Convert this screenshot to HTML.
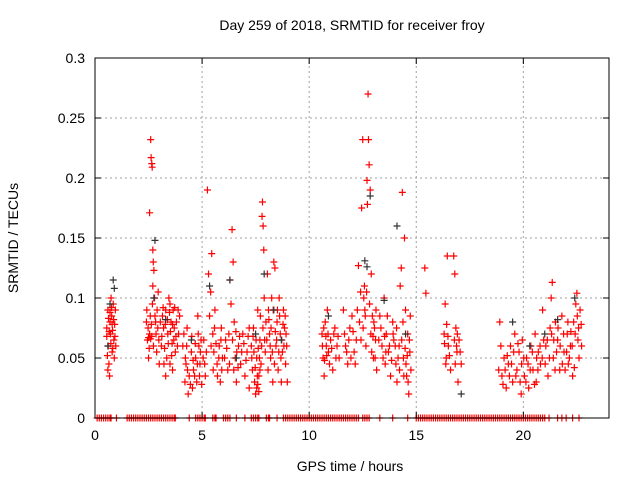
<!DOCTYPE html>
<html><head><meta charset="utf-8"><style>
body{margin:0;background:#fff;font-family:"Liberation Sans",sans-serif}
svg text{font-family:"Liberation Sans",sans-serif;font-size:14px;fill:#000}
</style></head><body>
<svg id="c" width="640" height="480" xmlns="http://www.w3.org/2000/svg">
<rect width="640" height="480" fill="#fff"/>
<text x="352" y="30" text-anchor="middle">Day 259 of 2018, SRMTID for receiver froy</text>
<text x="350" y="471" text-anchor="middle">GPS time / hours</text>
<text transform="translate(18,238) rotate(-90)" text-anchor="middle">SRMTID / TECUs</text>
<g id="grid"></g>
<g id="marks"></g>
<g id="axes"></g>
</svg>
<script>
const xTicks=[0,5,10,15,20];
const yTicks=[0,0.05,0.1,0.15,0.2,0.25,0.3];
const yTickLabels=["0","0.05","0.1","0.15","0.2","0.25","0.3"];
const redPoints=[[0.55,0.075],[0.6,0.09],[0.62,0.06],[0.65,0.045],[0.68,0.035],[0.7,0.08],[0.72,0.07],[0.75,0.1],[0.78,0.085],[0.8,0.055],[0.82,0.073],[0.85,0.095],[0.88,0.065],[0.9,0.05],[0.92,0.078],[0.95,0.09],[0.6,0.04],[0.7,0.088],
[2.4,0.08],[2.45,0.065],[2.5,0.05],[2.55,0.171],[2.6,0.232],[2.62,0.217],[2.65,0.212],[2.67,0.209],[2.7,0.14],[2.72,0.13],[2.75,0.123],[2.78,0.1],[2.8,0.085],[2.85,0.07],[2.9,0.09],[2.95,0.105],[3.0,0.045],[2.5,0.067],[2.6,0.066],[2.7,0.11],
[3.1,0.06],[3.15,0.085],[3.2,0.075],[3.3,0.09],[3.35,0.05],[3.4,0.07],[3.45,0.1],[3.5,0.095],[3.55,0.08],[3.6,0.062],[3.65,0.09],[3.7,0.075],[3.75,0.055],[3.8,0.08],[3.9,0.07],[3.95,0.085],[3.3,0.035],[3.5,0.045],
[4.1,0.06],[4.2,0.03],[4.25,0.045],[4.3,0.075],[4.35,0.02],[4.4,0.035],[4.5,0.055],[4.55,0.025],[4.6,0.04],[4.7,0.05],[4.75,0.03],[4.8,0.085],[4.85,0.06],[4.9,0.045],[4.95,0.065],
[5.05,0.05],[5.15,0.035],[5.25,0.19],[5.3,0.12],[5.4,0.105],[5.45,0.137],[5.5,0.07],[5.55,0.055],[5.6,0.09],[5.7,0.045],[5.8,0.06],[5.85,0.03],[5.9,0.075],[5.95,0.05],
[6.1,0.065],[6.2,0.04],[6.3,0.115],[6.35,0.095],[6.4,0.157],[6.45,0.13],[6.5,0.08],[6.55,0.05],[6.6,0.03],[6.7,0.06],[6.8,0.045],[6.9,0.07],[7.0,0.035],[7.1,0.055],[7.2,0.025],[7.2,0.075],
[7.3,0.06],[7.35,0.04],[7.4,0.075],[7.45,0.03],[7.5,0.02],[7.55,0.05],[7.6,0.09],[7.65,0.035],[7.7,0.065],[7.75,0.045],[7.8,0.168],[7.82,0.18],[7.85,0.16],[7.88,0.14],[7.9,0.1],[7.95,0.055],[7.6,0.028],[7.7,0.04],
[8.05,0.12],[8.1,0.09],[8.15,0.07],[8.2,0.05],[8.25,0.1],[8.3,0.03],[8.35,0.13],[8.4,0.125],[8.45,0.06],[8.5,0.08],[8.55,0.04],[8.6,0.1],[8.65,0.07],[8.7,0.03],[8.75,0.055],[8.8,0.09],[8.85,0.075],[8.9,0.045],[8.95,0.06],
[10.6,0.07],[10.65,0.05],[10.7,0.035],[10.75,0.08],[10.8,0.06],[10.85,0.09],[10.9,0.055],[11.0,0.065],[11.1,0.04],[11.2,0.075],[11.3,0.06],[11.4,0.05],
[11.6,0.09],[11.7,0.06],[11.8,0.045],[11.9,0.075],[12.0,0.085],[12.1,0.055],[12.2,0.065],[12.3,0.127],[12.35,0.08],
[12.45,0.175],[12.5,0.232],[12.55,0.1],[12.6,0.09],[12.65,0.06],[12.7,0.198],[12.72,0.178],[12.75,0.27],[12.77,0.232],[12.8,0.211],[12.85,0.19],[12.9,0.12],[12.95,0.085],[13.0,0.05],[13.05,0.075],[13.1,0.065],[13.15,0.04],
[13.3,0.085],[13.4,0.06],[13.5,0.1],[13.55,0.045],[13.6,0.07],[13.7,0.055],[13.8,0.035],[13.9,0.08],[13.95,0.065],
[14.05,0.045],[14.1,0.03],[14.2,0.06],[14.25,0.11],[14.3,0.125],[14.35,0.188],[14.4,0.05],[14.45,0.15],[14.5,0.09],[14.55,0.035],[14.6,0.07],[14.65,0.02],[14.7,0.055],[14.75,0.04],
[15.4,0.125],[15.45,0.104],
[16.3,0.07],[16.35,0.095],[16.4,0.05],[16.45,0.135],[16.5,0.06],[16.6,0.04],[16.75,0.135],[16.8,0.12],[16.85,0.075],[16.9,0.055],[16.95,0.03],[17.0,0.065],[17.1,0.045],
[18.9,0.08],[19.0,0.035],[19.1,0.05],[19.2,0.025],[19.3,0.045],[19.4,0.06],[19.5,0.03],[19.6,0.07],[19.7,0.04],[19.8,0.055],[19.9,0.02],[19.95,0.065],
[20.05,0.035],[20.15,0.05],[20.25,0.025],[20.35,0.06],[20.45,0.04],[20.55,0.07],[20.6,0.03],[20.7,0.055],[20.8,0.045],[20.9,0.09],
[21.05,0.06],[21.15,0.035],[21.25,0.075],[21.3,0.1],[21.35,0.113],[21.4,0.05],[21.5,0.08],[21.6,0.065],[21.7,0.04],[21.8,0.085],[21.9,0.055],
[22.05,0.07],[22.1,0.045],[22.2,0.06],[22.3,0.035],[22.35,0.08],[22.45,0.095],[22.5,0.104],[22.55,0.065],[22.6,0.05],[22.7,0.078]];
const extraRedPoints=[[0.55,0.068],[0.58,0.052],[0.63,0.083],[0.66,0.072],[0.74,0.062],[0.77,0.092],[0.8,0.078],[0.83,0.058],[0.87,0.082],[0.93,0.068],[0.97,0.06],
[2.42,0.09],[2.48,0.075],[2.53,0.058],[2.58,0.085],[2.63,0.078],[2.68,0.095],[2.73,0.06],[2.83,0.08],[2.88,0.055],[2.93,0.075],[2.98,0.065],[2.55,0.07],[2.65,0.068],
[3.05,0.08],[3.12,0.068],[3.18,0.092],[3.25,0.058],[3.28,0.078],[3.38,0.082],[3.42,0.062],[3.48,0.088],[3.52,0.072],[3.58,0.052],[3.62,0.078],[3.68,0.065],[3.72,0.092],[3.78,0.068],[3.85,0.06],[3.88,0.09],[3.22,0.045],[3.62,0.04],
[4.15,0.07],[4.22,0.05],[4.28,0.06],[4.32,0.04],[4.45,0.028],[4.52,0.068],[4.58,0.048],[4.65,0.035],[4.68,0.062],[4.78,0.045],[4.82,0.07],[4.88,0.035],[4.92,0.055],[4.98,0.028],
[5.08,0.065],[5.12,0.045],[5.2,0.055],[5.35,0.085],[5.42,0.06],[5.52,0.04],[5.58,0.075],[5.65,0.062],[5.72,0.035],[5.78,0.05],[5.88,0.065],[5.92,0.04],
[6.05,0.05],[6.15,0.058],[6.25,0.07],[6.28,0.045],[6.42,0.065],[6.48,0.04],[6.58,0.072],[6.62,0.055],[6.68,0.042],[6.75,0.068],[6.85,0.055],[6.95,0.062],[7.05,0.048],[7.15,0.068],
[7.32,0.05],[7.38,0.068],[7.42,0.055],[7.48,0.042],[7.52,0.065],[7.58,0.035],[7.62,0.058],[7.68,0.05],[7.72,0.085],[7.78,0.06],[7.84,0.075],[7.92,0.065],[7.98,0.08],[7.55,0.025],[7.65,0.022],
[8.02,0.065],[8.08,0.04],[8.12,0.082],[8.18,0.06],[8.22,0.075],[8.28,0.055],[8.32,0.09],[8.38,0.045],[8.42,0.072],[8.48,0.065],[8.52,0.09],[8.58,0.055],[8.62,0.085],[8.68,0.05],[8.72,0.065],[8.78,0.078],[8.82,0.06],[8.88,0.085],[8.92,0.07],[8.98,0.03],
[10.62,0.06],[10.68,0.075],[10.72,0.048],[10.78,0.068],[10.82,0.052],[10.88,0.07],[10.95,0.045],[11.05,0.058],[11.15,0.07],[11.25,0.05],[11.35,0.068],
[11.65,0.07],[11.75,0.055],[11.85,0.065],[11.95,0.05],[12.05,0.072],[12.15,0.045],[12.25,0.09],[12.4,0.105],[12.42,0.065],
[12.52,0.075],[12.58,0.11],[12.62,0.085],[12.68,0.105],[12.82,0.095],[12.88,0.07],[12.92,0.055],[12.98,0.068],[13.02,0.08],[13.08,0.05],[13.12,0.09],
[13.25,0.065],[13.35,0.075],[13.45,0.05],[13.52,0.068],[13.58,0.055],[13.65,0.085],[13.75,0.06],[13.85,0.048],[13.92,0.07],
[14.02,0.06],[14.08,0.075],[14.15,0.05],[14.22,0.04],[14.32,0.065],[14.38,0.08],[14.42,0.035],[14.48,0.058],[14.52,0.045],[14.58,0.052],[14.62,0.03],[14.68,0.065],[14.72,0.085],
[16.32,0.062],[16.38,0.045],[16.42,0.078],[16.48,0.068],[16.55,0.052],[16.78,0.065],[16.82,0.045],[16.88,0.06],[16.92,0.07],[17.05,0.055],
[18.85,0.04],[18.95,0.06],[19.05,0.028],[19.15,0.04],[19.25,0.052],[19.35,0.035],[19.45,0.045],[19.55,0.055],[19.65,0.035],[19.75,0.062],[19.85,0.03],[19.92,0.045],
[20.02,0.05],[20.12,0.03],[20.22,0.045],[20.32,0.04],[20.42,0.055],[20.52,0.028],[20.62,0.05],[20.68,0.04],[20.78,0.06],[20.88,0.05],[20.95,0.065],
[21.02,0.045],[21.12,0.065],[21.22,0.05],[21.32,0.07],[21.42,0.065],[21.48,0.04],[21.55,0.055],[21.62,0.075],[21.72,0.06],[21.82,0.045],[21.88,0.07],[21.95,0.04],
[22.02,0.055],[22.08,0.08],[22.15,0.05],[22.22,0.072],[22.28,0.06],[22.38,0.042],[22.42,0.07],[22.52,0.085],[22.58,0.075],[22.65,0.09],[22.72,0.06]];
const blackPoints=[[0.7,0.095],[0.85,0.115],[0.9,0.108],[0.6,0.06],[2.8,0.148],[2.75,0.1],[3.3,0.082],[5.35,0.11],[6.3,0.115],[6.6,0.05],[7.9,0.12],[8.35,0.09],[8.7,0.065],[12.6,0.131],[12.7,0.126],[12.85,0.185],[13.5,0.098],[14.1,0.16],[14.5,0.07],[17.1,0.02],[19.5,0.08],[20.3,0.06],[21.0,0.07],[21.6,0.082],[22.4,0.1],[10.9,0.085],[4.5,0.065],[7.5,0.07]];
const zeroHours=[0.1,0.2,0.3,0.4,0.5,0.6,0.7,0.75,1.0,1.5,1.6,1.7,1.8,1.9,2.0,2.1,2.2,2.3,2.4,2.5,2.6,2.7,2.8,2.9,3.0,3.1,3.2,3.3,3.4,3.5,3.6,3.7,3.75,4.4,4.7,4.8,4.9,5.0,5.1,5.15,5.5,5.6,5.65,6.0,6.1,6.2,6.3,6.6,7.0,7.3,7.4,7.5,7.6,7.65,8.0,8.1,8.15,8.5,8.8,8.9,9.0,9.1,9.2,9.3,9.4,9.5,9.6,9.7,9.8,9.9,10.0,10.1,10.2,10.3,10.4,10.5,10.6,10.7,10.8,10.9,11.0,11.1,11.2,11.3,11.4,11.5,11.6,11.7,11.8,11.9,12.0,12.1,12.2,12.3,12.5,12.6,12.7,12.8,13.3,13.9,14.6,15.0,15.1,15.2,15.3,15.4,15.5,15.6,15.7,15.8,15.9,16.0,16.1,16.2,16.3,16.4,16.5,16.6,16.7,16.8,16.9,17.0,17.1,17.2,17.3,17.4,17.5,17.6,17.7,17.8,17.9,18.0,18.1,18.2,18.3,18.4,18.5,18.6,18.7,18.8,18.9,19.0,19.1,19.2,19.3,19.4,19.5,19.6,19.7,19.8,19.9,20.0,20.1,20.2,20.3,20.4,20.5,20.6,20.7,20.8,20.9,21.0,21.2,21.6,21.8,22.0,22.3,22.6];

const X0=95,X1=609,Y0=418,Y1=58,XMAX=24,YMAX=0.3;
const xs=v=>X0+(X1-X0)*v/XMAX, ys=v=>Y0-(Y0-Y1)*v/YMAX;
const NS="http://www.w3.org/2000/svg";
function mk(t,a,p){const e=document.createElementNS(NS,t);for(const k in a)e.setAttribute(k,a[k]);p.appendChild(e);return e;}
const grid=document.getElementById('grid'),axes=document.getElementById('axes'),marks=document.getElementById('marks');
xTicks.forEach(t=>{const x=xs(t);
 if(t>0){const g=mk('line',{x1:x,x2:x,y1:Y0,y2:Y1,stroke:'#a0a0a0','stroke-dasharray':'2,3'},grid);
 }
 const tk=mk('path',{d:`M${x},${Y0}v-6M${x},${Y1}v6`,stroke:'#000'},axes);
 
 const l=mk('text',{x:x,y:Y0+22,'text-anchor':'middle'},axes);l.textContent=t;
 });
yTicks.forEach((t,i)=>{const y=ys(t);
 if(t>0&&t<YMAX){const g=mk('line',{x1:X0,x2:X1,y1:y,y2:y,stroke:'#a0a0a0','stroke-dasharray':'2,3'},grid);
 }
 const tk=mk('path',{d:`M${X0},${y}h6M${X1},${y}h-6`,stroke:'#000'},axes);
 
 const l=mk('text',{x:X0-10,y:y+5,'text-anchor':'end'},axes);l.textContent=yTickLabels[i];
 });
const fr=mk('rect',{x:X0,y:Y1,width:X1-X0,height:Y0-Y1,fill:'none',stroke:'#000'},axes);

function plus(h,v,c,name){const x=xs(h),y=ys(v);
 const p=mk('path',{d:`M${x-3.5},${y}h7M${x},${y-3.5}v7`,stroke:c,'stroke-width':1.2},marks);
 }
redPoints.forEach(d=>plus(d[0],d[1],'#f00','red-point'));
extraRedPoints.forEach(d=>plus(d[0],d[1],'#f00','red-point'));
blackPoints.forEach(d=>plus(d[0],d[1],'#333','black-point'));
zeroHours.forEach(h=>plus(h,0,'#f00','zero-point'));
</script>
</body></html>
